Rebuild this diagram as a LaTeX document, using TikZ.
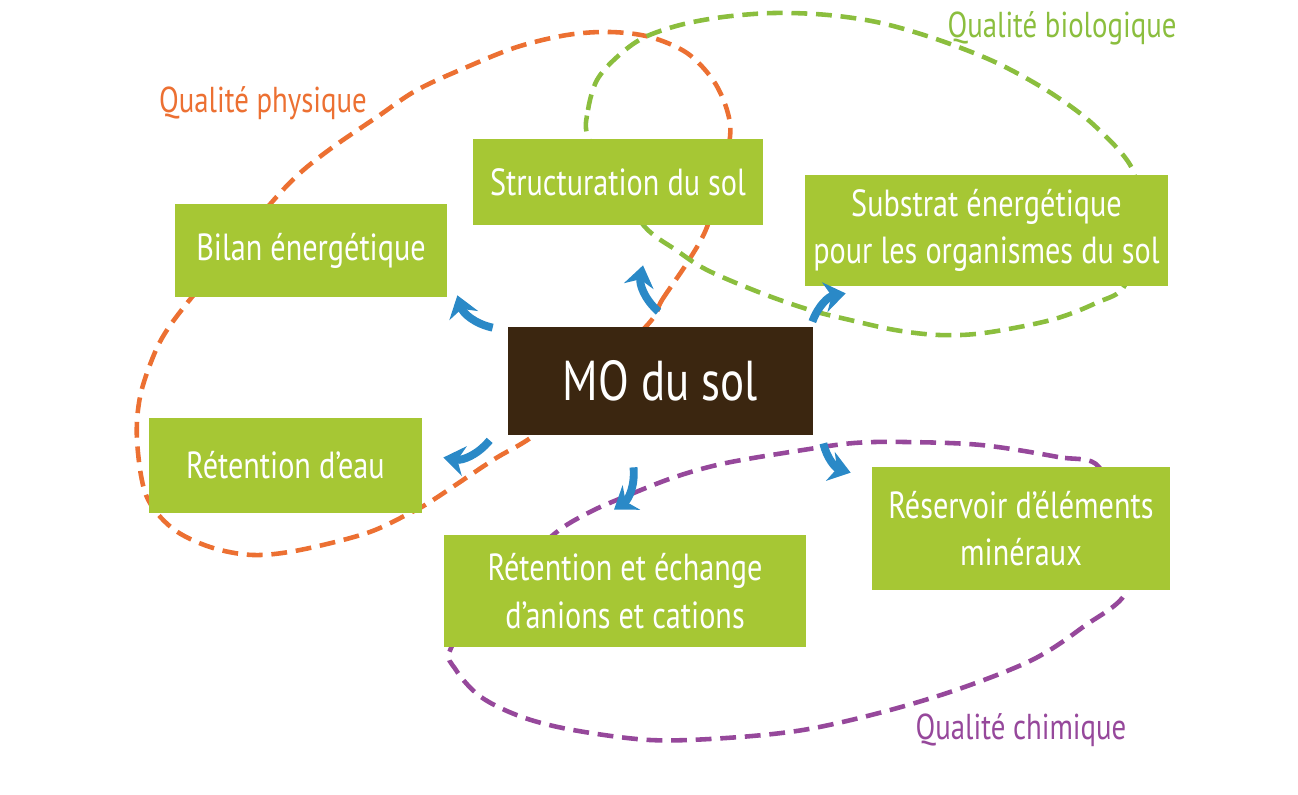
\documentclass[tikz,border=0pt]{standalone}
\usepackage{fontspec}
\setmainfont{PT Sans}[FakeStretch=0.8]
\usetikzlibrary{arrows.meta}
\pgfdeclarelayer{bg}
\pgfsetlayers{bg,main}
\definecolor{boxgreen}{RGB}{166,199,52}
\definecolor{soilbrown}{RGB}{59,38,16}
\definecolor{physorange}{RGB}{236,112,50}
\definecolor{biogreen}{RGB}{139,190,62}
\definecolor{chimpurple}{RGB}{150,72,155}
\definecolor{arrowblue}{RGB}{42,137,199}

\begin{document}
\begin{tikzpicture}[x=0.2mm,y=0.2mm,
  fct/.style={fill=boxgreen,text=white,align=center,inner sep=0pt,font=\fontsize{21.5}{27}\selectfont},
  qual/.style={line width=2.6pt,dash pattern=on 9pt off 5pt},
  lbl/.style={font=\fontsize{20.5}{24}\selectfont},
  flow/.style={arrowblue,line width=4.5pt,-{Stealth[length=12pt,width=17pt]}}]
\useasboundingbox (0,0) rectangle (1298,-795);
\node[fct,fill=soilbrown,minimum width=6.1cm,minimum height=2.16cm,font=\fontsize{32}{40}\selectfont] (mo) at (660.5,-381) {MO du sol};
\node[fct,minimum width=5.44cm,minimum height=1.86cm] (bilan) at (311,-250.5) {Bilan énergétique};
\node[fct,minimum width=5.8cm,minimum height=1.72cm] (struct) at (618,-182) {Structuration du sol};
\node[fct,minimum width=7.26cm,minimum height=2.22cm] (substrat) at (986.5,-230.5) {Substrat énergétique\\pour les organismes du sol};
\node[fct,minimum width=5.46cm,minimum height=1.9cm] (eau) at (285.5,-465.5) {Rétention d’eau};
\node[fct,minimum width=7.24cm,minimum height=2.24cm] (echange) at (625,-591) {Rétention et échange\\d’anions et cations};
\node[fct,minimum width=5.96cm,minimum height=2.46cm] (reservoir) at (1021,-528.5) {Réservoir d’éléments\\minéraux};
% qualites
\node[lbl,text=physorange] (lphys) at (263,-103) {Qualité physique};
\node[lbl,text=biogreen] (lbio) at (1062,-28) {Qualité biologique};
\node[lbl,text=chimpurple] (lchim) at (1021,-730) {Qualité chimique};
\begin{pgfonlayer}{bg}
  \draw[qual,physorange] plot[smooth cycle,tension=0.55] coordinates {(650,-322) (662,-300) (689,-260) (707,-227) (720,-180) (730,-137) (727,-110) (713,-80) (687,-53) (650,-37) (610,-32) (567,-35) (517,-47) (467,-67) (417,-90) (377,-117) (333,-147) (300,-173) (272,-202) (232,-250) (192,-297) (167,-330) (153,-357) (140,-397) (137,-440) (146,-495) (172,-528) (210,-547) (253,-555) (300,-550) (367,-533) (410,-513) (433,-500) (493,-460) (537,-433) (595,-378)};
  \draw[qual,biogreen] plot[smooth cycle,tension=0.55] coordinates {(588,-137) (588,-110) (597,-80) (617,-57) (643,-38) (680,-25) (723,-17) (774,-13) (828,-15) (881,-23) (939,-40) (997,-63) (1051,-93) (1096,-127) (1134,-173) (1132,-230) (1125,-285) (1096,-303) (1051,-320) (984,-333) (939,-335) (895,-330) (850,-320) (810,-310) (761,-293) (707,-270) (676,-250) (645,-227) (615,-182)};
  \draw[qual,chimpurple] plot[smooth cycle,tension=0.55] coordinates {(1099,-467) (1058,-457) (981,-445) (905,-442) (854,-443) (803,-450) (726,-463) (675,-477) (624,-497) (588,-513) (553,-535) (495,-590) (451,-648) (456,-670) (481,-697) (522,-717) (573,-730) (650,-740) (726,-738) (803,-730) (879,-713) (956,-690) (1032,-660) (1083,-627) (1127,-590) (1118,-528)};
\end{pgfonlayer}
% fleches
\draw[flow] ([shift={(-15,-1)}]mo.north west) to[bend left] ([shift={(10,2)}]bilan.south east);
\draw[flow] ([shift={(-2,15)}]mo.north) to[bend left] ([shift={(25,-40)}]struct.south);
\draw[flow] ([shift={(-1,5)}]mo.north east) to[bend left] ([shift={(41,-7)}]substrat.south west);
\draw[flow] ([shift={(-18,-5)}]mo.south west) to[bend left] ([shift={(21,8)}]eau.east);
\draw[flow] ([shift={(-27,-32)}]mo.south) to[bend left] ([shift={(-11,25)}]echange.north);
\draw[flow] ([shift={(10,-8)}]mo.south east) to[bend right] ([shift={(-21,-6)}]reservoir.north west);
\end{tikzpicture}
\end{document}
